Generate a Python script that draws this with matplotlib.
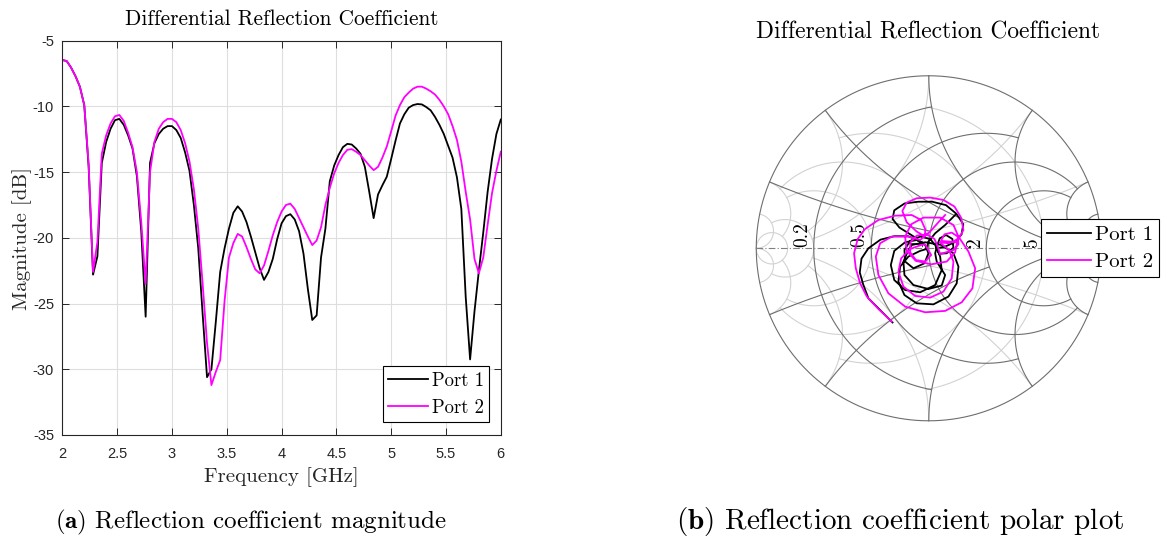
import numpy as np
import matplotlib
matplotlib.use("Agg")
import matplotlib.pyplot as plt

plt.rcParams['font.family'] = ['Liberation Sans', 'DejaVu Sans']
plt.rcParams['mathtext.fontset'] = 'cm'
plt.rcParams['axes.unicode_minus'] = False

# frequency sweep, 101 points 2-6 GHz
freq_ghz = np.linspace(2, 6, 101)

port1_db = [
    -6.47, -6.55, -7.05, -7.7, -8.5, -9.9, -14.6, -22.8, -21.4, -14.3,
    -12.7, -11.7, -11.05, -10.95, -11.4, -12.2, -13.2, -15.3, -19.5, -26.0,
    -14.3, -12.8, -12.1, -11.7, -11.5, -11.5, -11.8, -12.4, -13.5, -14.9,
    -17.5, -20.8, -25.8, -30.6, -30.0, -26.4, -22.6, -20.8, -19.3, -18.1,
    -17.6, -18.0, -18.8, -19.9, -21.1, -22.3, -23.2, -22.6, -21.6, -20.1,
    -18.9, -18.35, -18.2, -18.6, -19.5, -21.2, -23.9, -26.25, -25.9, -21.5,
    -19.3, -15.7, -14.5, -13.7, -13.1, -12.85, -12.9, -13.2, -13.6, -14.6,
    -16.5, -18.5, -16.7, -16.0, -15.35, -14.0, -12.6, -11.3, -10.6, -10.1,
    -9.9, -9.82, -9.85, -10.05, -10.3, -10.8, -11.4, -12.1, -13.0, -13.9,
    -15.4, -17.8, -24.5, -29.25, -25.6, -22.5, -19.6, -16.5, -14.0, -12.1,
    -11.0]

port2_db = [
    -6.47, -6.55, -7.05, -7.7, -8.5, -9.9, -14.4, -22.6, -20.3, -13.6,
    -12.2, -11.3, -10.75, -10.65, -11.1, -12.0, -13.1, -15.0, -18.8, -23.5,
    -15.0, -12.7, -11.7, -11.2, -10.95, -10.95, -11.2, -11.8, -12.8, -14.2,
    -16.3, -19.3, -23.5, -28.0, -31.2, -30.2, -29.3, -24.8, -21.5, -20.4,
    -19.7, -19.9, -20.7, -21.6, -22.4, -22.7, -22.1, -21.0, -19.8, -18.8,
    -18.0, -17.5, -17.4, -17.8, -18.5, -19.2, -19.9, -20.55, -20.2, -19.2,
    -17.5, -16.2, -15.1, -14.3, -13.7, -13.3, -13.25, -13.45, -13.7, -14.1,
    -14.5, -14.85, -14.6, -13.9, -13.05, -11.9, -10.7, -9.9, -9.3, -8.95,
    -8.65, -8.5, -8.5, -8.65, -8.85, -9.1, -9.5, -10.0, -10.6, -11.5,
    -12.55, -14.2, -16.5, -18.6, -21.6, -22.7, -21.5, -19.0, -16.6, -14.9,
    -13.45]

port1_re = [
    -0.21, -0.29, -0.35, -0.38, -0.40, -0.39, -0.35, -0.28, -0.20, -0.12, -0.07, -0.044,
    -0.09, -0.17, -0.21, -0.20, -0.14, -0.06, 0.02, 0.10, 0.16, 0.20, 0.19, 0.15, 0.095, 0.046,
    0.066, 0.075, 0.037, -0.05, -0.137, -0.20, -0.22, -0.20, -0.137, -0.07, -0.021,
    -0.002, -0.025, -0.089, -0.137, -0.141, -0.108, -0.05, 0.008, 0.037, 0.06,
    0.104, 0.143, 0.137, 0.10, 0.064, 0.048, 0.037,
    0.046, 0.095, 0.075, -0.002, -0.089, -0.141, -0.147, -0.118,
    -0.099, -0.021, 0.075, 0.143, 0.172, 0.162, 0.114, 0.027, -0.07, -0.141, -0.176, -0.166,
    -0.118, -0.05, -0.012,
    -0.002, 0.037, 0.095, 0.153]
port1_im = [
    -0.43, -0.35, -0.29, -0.21, -0.14, -0.06, 0.00, 0.05, 0.07, 0.07, 0.05, 0.035,
    0.07, 0.12, 0.17, 0.22, 0.26, 0.27, 0.27, 0.25, 0.20, 0.14, 0.08, 0.035, 0.01, 0.0,
    -0.048, -0.126, -0.213, -0.255, -0.242, -0.184, -0.097, -0.015, 0.035, 0.048, 0.019,
    -0.029, -0.087, -0.116, -0.077, -0.01, 0.043, 0.068, 0.054, 0.019, -0.031,
    -0.029, 0.004, 0.054, 0.077, 0.058, 0.015, -0.029,
    -0.077, -0.155, -0.216, -0.236, -0.213, -0.155, -0.077, -0.01,
    0.019, 0.035, 0.019, -0.029, -0.106, -0.203, -0.28, -0.325, -0.319, -0.271, -0.193, -0.106,
    -0.048, -0.015, -0.004,
    0.039, 0.087, 0.135, 0.193]

port2_re = [
    -0.214, -0.292, -0.359, -0.398, -0.423, -0.433, -0.412, -0.369, -0.292, -0.195, -0.099,
    -0.044, -0.021, -0.021,
    -0.070, -0.128, -0.153, -0.128, -0.070, 0.008, 0.085, 0.149, 0.187, 0.201, 0.172, 0.114, 0.062,
    0.118, 0.143, 0.133, 0.085, 0.008, -0.079, -0.147, -0.176, -0.160, -0.108, -0.044, -0.021,
    0.014, -0.021, -0.075, -0.108, -0.106, -0.070, -0.012, 0.033, 0.052, 0.066,
    0.100, 0.143, 0.172, 0.168, 0.133, 0.091, 0.071,
    0.164, 0.153, 0.104, 0.014, -0.075, -0.128, -0.137, -0.102, -0.031, 0.066, 0.143, 0.172,
    0.230, 0.269, 0.253, 0.191, 0.095, -0.021, -0.137, -0.234, -0.292, -0.307, -0.282, -0.214,
    -0.118, -0.050,
    0.008, 0.056, 0.095]
port2_im = [
    -0.425, -0.352, -0.280, -0.203, -0.116, -0.029, 0.054, 0.112, 0.164, 0.189, 0.193,
    0.164, 0.112, 0.068,
    0.097, 0.151, 0.216, 0.265, 0.290, 0.294, 0.280, 0.242, 0.178, 0.106, 0.054, 0.029, 0.035,
    -0.010, -0.077, -0.174, -0.251, -0.286, -0.276, -0.222, -0.135, -0.058, -0.004, 0.019, 0.023,
    -0.039, -0.077, -0.068, -0.023, 0.035, 0.073, 0.081, 0.054, 0.010, -0.035,
    -0.023, -0.010, 0.023, 0.068, 0.091, 0.081, 0.043,
    0.035, -0.023, -0.077, -0.093, -0.073, -0.015, 0.068, 0.139, 0.178, 0.178, 0.135, 0.068,
    -0.019, -0.116, -0.232, -0.313, -0.363, -0.371, -0.338, -0.261, -0.155, -0.048, 0.029, 0.068,
    0.068, 0.048,
    0.097, 0.151, 0.193]

# smith chart grid (value, extent), as in MATLAB smithplot
grid_values = [10, 5, 2, 1, 0.5, 0.2]
grid_limits = [np.inf, 10, 5, 5, 2, 1]
label_values = [0.2, 0.5, 1, 2, 5]

cm_font = 'cmr10'
dark = '#262626'

fig = plt.figure(figsize=(11.63, 5.43), dpi=100)

# ---- (a) magnitude ----
ax = fig.add_axes([0.0536, 0.1989, 0.3770, 0.7262])
ax.plot(freq_ghz, port1_db, color='black', lw=1.3, label='Port 1')
ax.plot(freq_ghz, port2_db, color='#ff00ff', lw=1.3, label='Port 2')
ax.set_xlim(2, 6)
ax.set_ylim(-35, -5)
ax.set_xticks(np.arange(2, 6.01, 0.5))
ax.set_xticklabels(['2', '2.5', '3', '3.5', '4', '4.5', '5', '5.5', '6'])
ax.set_yticks(np.arange(-35, -4, 5))
ax.set_yticklabels([str(v) for v in range(-35, -4, 5)])
ax.grid(True, color='#dedede', lw=0.8)
ax.set_axisbelow(True)
ax.tick_params(direction='in', length=5, width=0.7, top=True, right=True,
               labelsize=10.5, colors=dark)
ax.tick_params(axis='x', pad=9)
ax.tick_params(axis='y', pad=6)
for s in ax.spines.values():
    s.set_color(dark)
    s.set_linewidth(0.8)
leg = ax.legend(loc='upper right', bbox_to_anchor=(489.3 / 1163, 1 - 366 / 543),
                bbox_transform=fig.transFigure, prop={'family': cm_font, 'size': 13.5},
                frameon=True, fancybox=False, framealpha=1, edgecolor='black',
                borderpad=0.3, labelspacing=0.5, handlelength=2.1, handletextpad=0.2,
                borderaxespad=0)
leg.get_frame().set_linewidth(0.8)

fig.text(281.5 / 1163, 1 - 19 / 543, 'Differential Reflection Coefficient',
         family=cm_font, size=15.4, ha='center', va='center')
fig.text(281.5 / 1163, 1 - 477 / 543, 'Frequency [GHz]',
         family=cm_font, size=15, ha='center', va='center', color=dark)
fig.text(22 / 1163, 1 - 238 / 543, 'Magnitude [dB]', rotation=90,
         family=cm_font, size=15, ha='center', va='center', color=dark)

# ---- (b) smith chart ----
sx = fig.add_axes([0.6473, 0.2187, 0.3026, 0.6481])
sx.set_xlim(-1.02, 1.02)
sx.set_ylim(-1.02, 1.02)
sx.set_aspect('equal')
sx.axis('off')


def to_gamma(z):
    return (z - 1) / (z + 1)


def draw_grid(sign, color, lw, zo):
    for v, lim in zip(grid_values, grid_limits):
        a = np.arctan(lim)
        x = np.tan(np.linspace(-a, a, 801))
        g = sign * to_gamma(v + 1j * x)
        sx.plot(g.real, g.imag, color=color, lw=lw, zorder=zo)
        r = np.tan(np.linspace(0, a, 801))
        for xs in (v, -v):
            g = sign * to_gamma(r + 1j * xs)
            sx.plot(g.real, g.imag, color=color, lw=lw, zorder=zo)


draw_grid(-1, '#d2d2d2', 0.8, 1)
draw_grid(1, '#6e6e6e', 0.8, 2)
t = np.linspace(0, 2 * np.pi, 721)
sx.plot(np.cos(t), np.sin(t), color='#6e6e6e', lw=0.8, zorder=2)
sx.plot([-1, 1], [0, 0], color='#808080', lw=0.8, ls=(0, (6, 2, 1, 2)), zorder=2)

for v in label_values:
    xg = to_gamma(v)
    sx.text(xg - 0.015, 0.005, str(v), rotation=90, family=cm_font, size=14,
            ha='right', va='bottom', zorder=2.5)

sx.plot(port1_re, port1_im, color='black', lw=1.3, zorder=3, label='Port 1')
sx.plot(port2_re, port2_im, color='#ff00ff', lw=1.3, zorder=4, label='Port 2')
leg2 = sx.legend(loc='upper right', bbox_to_anchor=(1159.3 / 1163, 1 - 219.3 / 543),
                 bbox_transform=fig.transFigure, prop={'family': cm_font, 'size': 15},
                 frameon=True, fancybox=False, framealpha=1, edgecolor='black',
                 borderpad=0.3, labelspacing=0.4, handlelength=2.1, handletextpad=0.2,
                 borderaxespad=0)
leg2.get_frame().set_linewidth(0.8)
leg2.set_zorder(10)

fig.text(928 / 1163, 1 - 32 / 543, 'Differential Reflection Coefficient',
         family=cm_font, size=16.9, ha='center', va='center')

# ---- captions ----
fig.text(251 / 1163, 1 - 522 / 543, r'$\mathbf{(a)}$ Reflection coefficient magnitude',
         family=cm_font, size=18, ha='center', va='center')
fig.text(900.5 / 1163, 1 - 522 / 543, r'$\mathbf{(b)}$ Reflection coefficient polar plot',
         family=cm_font, size=21, ha='center', va='center')

fig.savefig('out.png', dpi=100)
